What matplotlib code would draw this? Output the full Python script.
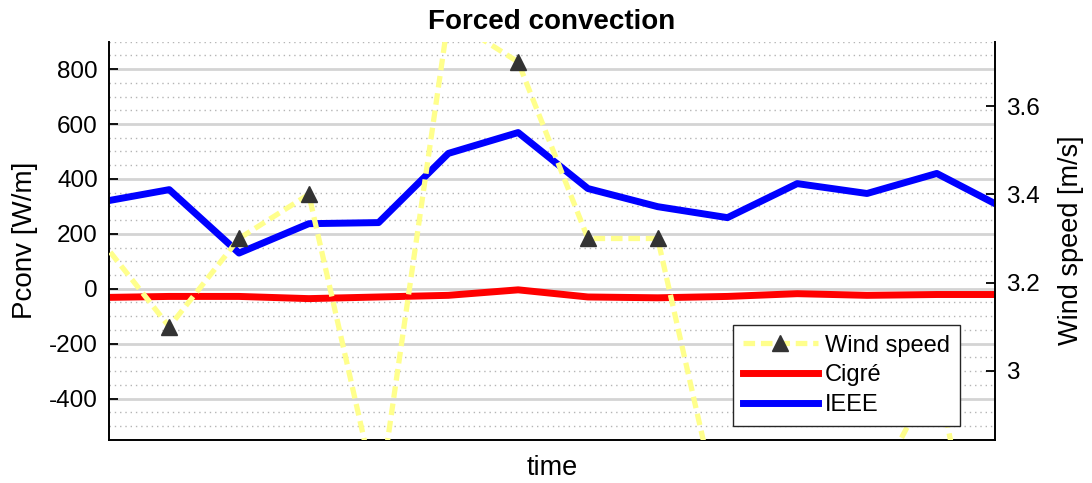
import numpy as np
import matplotlib
matplotlib.use("Agg")
import matplotlib.pyplot as plt
from matplotlib.ticker import MultipleLocator

plt.rcParams['font.family'] = ['Liberation Sans', 'DejaVu Sans']
plt.rcParams['axes.unicode_minus'] = False

# time samples (the time axis carries no tick labels)
t = np.arange(14)

# convective heat loss [W/m]
p_ieee = [315, 361, 130, 237, 241, 493, 569, 365, 299, 259, 383, 347, 420, 288]
p_cigre = [-32, -28, -28, -36, -30, -24, -4, -30, -33, -28, -18, -24, -21, -21]

# wind speed [m/s]
wind = [3.3, 3.1, 3.3, 3.4, 2.7, 3.8, 3.7, 3.3, 3.3, 2.6, 2.5, 2.7, 3.0, 2.2]

left_ticks = [-400, -200, 0, 200, 400, 600, 800]
right_ticks = [3.0, 3.2, 3.4, 3.6]
right_labels = ['3', '3.2', '3.4', '3.6']

fig = plt.figure(figsize=(10.92, 4.83), dpi=100)
ax = fig.add_axes([0.0998, 0.0896, 0.8111, 0.8241])
ax2 = ax.twinx()

l_cig, = ax.plot(t, p_cigre, color='red', lw=5, solid_joinstyle='round', label='Cigré')
l_ieee, = ax.plot(t, p_ieee, color='blue', lw=5, solid_joinstyle='round', label='IEEE')
l_wind, = ax2.plot(t, wind, color='#ffff8c', lw=3.8, dashes=(2.2, 1.1),
                   marker='^', ms=11.5, mfc='#333333', mec='#333333', label='Wind speed')

ax.set_xlim(0.136, 12.83)
ax.set_ylim(-550, 900)
ax2.set_ylim(2.844, 3.746)

# grid: solid major lines, dotted minor lines
ax.set_yticks(left_ticks)
ax.yaxis.set_minor_locator(MultipleLocator(50))
ax.grid(which='major', axis='y', color='#d4d4d4', lw=2, ls='-')
ax.grid(which='minor', axis='y', color='#b5b5b5', lw=1.0, ls=(0, (1, 2.8)))
ax.set_axisbelow(True)
ax.set_xticks([])

ax.tick_params(axis='y', which='major', direction='in', length=6.5, width=1.3,
               labelsize=17.5, pad=8)
ax.tick_params(axis='y', which='minor', length=0)
ax2.set_yticks(right_ticks)
ax2.set_yticklabels(right_labels)
ax2.tick_params(axis='y', direction='in', length=6.5, width=1.3, labelsize=17.5, pad=8)

for s in ['top', 'right']:
    ax.spines[s].set_visible(False)
for s in ['top', 'left', 'bottom']:
    ax2.spines[s].set_visible(False)
ax.spines['left'].set_linewidth(1.4)
ax.spines['bottom'].set_linewidth(1.4)
ax2.spines['right'].set_linewidth(1.4)

ax.set_ylabel('Pconv [W/m]', fontsize=20, labelpad=8)
ax2.set_ylabel('Wind speed [m/s]', fontsize=19.5, labelpad=13)
ax.set_xlabel('time', fontsize=19.5, labelpad=11)
ax.set_title('Forced convection', fontsize=20, fontweight='bold', pad=9)

leg = ax2.legend(handles=[l_wind, l_cig, l_ieee], loc='lower right',
                 bbox_to_anchor=(0.961, 0.034), borderaxespad=0, fontsize=17,
                 handlelength=3.2, handletextpad=0.3, labelspacing=0.33,
                 borderpad=0.42, fancybox=False, framealpha=1, edgecolor='#262626')
leg.get_frame().set_linewidth(1.0)

fig.savefig('out.png', dpi=100)
